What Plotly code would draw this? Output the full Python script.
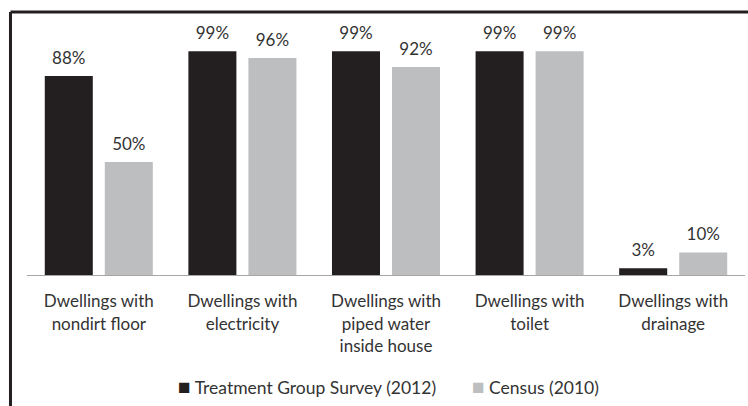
import plotly.graph_objects as go

categories = [
    "Dwellings with<br>nondirt floor",
    "Dwellings with<br>electricity",
    "Dwellings with<br>piped water<br>inside house",
    "Dwellings with<br>toilet",
    "Dwellings with<br>drainage",
]
treatment_2012 = [88, 99, 99, 99, 3]
census_2010 = [50, 96, 92, 99, 10]
series_names = ["Treatment Group Survey (2012)", "Census (2010)"]
series_colors = ["#231f20", "#bcbec0"]

FONT = "Lato"
TXT = "#333333"

fig = go.Figure()
for name, vals, col, grp in zip(series_names, [treatment_2012, census_2010], series_colors, ["a", "b"]):
    fig.add_trace(go.Bar(
        x=categories, y=vals, name=name, marker=dict(color=col, line=dict(width=0)),
        offsetgroup=grp, hoverinfo="skip", showlegend=False,
    ))
for name, vals, grp in zip(series_names, [treatment_2012, census_2010], ["a", "b"]):
    fig.add_trace(go.Scatter(
        x=categories, y=vals, mode="markers+text", text=[f"{v}%" for v in vals],
        textposition="top center", textfont=dict(family=FONT, size=17, color=TXT),
        marker=dict(size=11, color="rgba(0,0,0,0)"), offsetgroup=grp,
        showlegend=False, hoverinfo="skip", cliponaxis=False,
    ))

legend_text = "        ".join(
    f"<span style='color:{c};font-size:21px'>■</span> {n}" for n, c in zip(series_names, series_colors)
)

fig.update_layout(
    width=748, height=406,
    margin=dict(l=27, r=3, t=49, b=131),
    paper_bgcolor="white", plot_bgcolor="white",
    barmode="group", scattermode="group", bargap=0.164, bargroupgap=0.2,
    font=dict(family=FONT, size=17, color=TXT),
    showlegend=False,
    xaxis=dict(showline=True, linecolor="#a6a6a6", linewidth=1, ticks="",
               ticklabelstandoff=11,
               tickfont=dict(family=FONT, size=17, color=TXT), showgrid=False),
    yaxis=dict(range=[0, 100], visible=False, showgrid=False, zeroline=False),
    annotations=[dict(text=legend_text, xref="paper", yref="paper", x=0.503, y=-0.491,
                      xanchor="center", yanchor="middle", showarrow=False,
                      font=dict(family=FONT, size=17.5, color=TXT))],
    shapes=[
        dict(type="line", xref="paper", yref="paper", x0=-0.023, x1=1.2, y0=1.1637, y1=1.1637,
             line=dict(color="#231f20", width=3)),
        dict(type="line", xref="paper", yref="paper", x0=-0.023, x1=-0.023, y0=1.1637, y1=-1.0,
             line=dict(color="#231f20", width=3)),
    ],
)

fig.write_html("out.html")
